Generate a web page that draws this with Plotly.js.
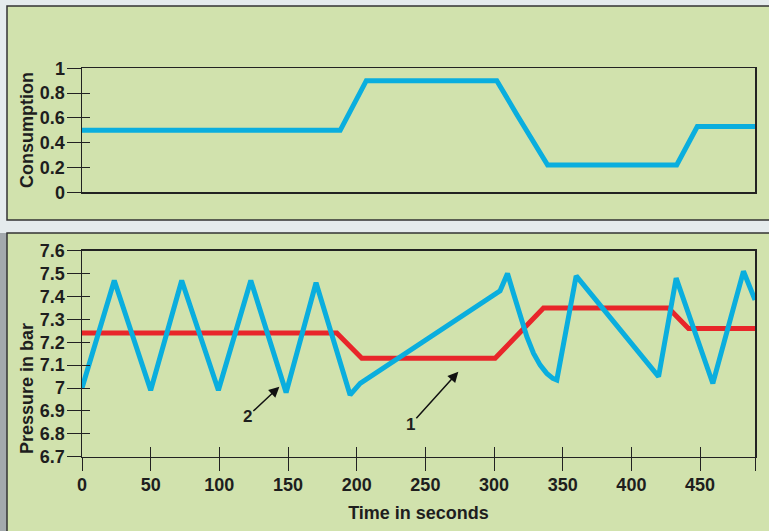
<!DOCTYPE html>
<html><head><meta charset="utf-8">
<script src="https://cdn.plot.ly/plotly-3.0.1.min.js"></script>
<style>html,body{margin:0;padding:0;background:#e5ebed;} #chart{width:769px;height:531px;}</style>
</head><body><div id="chart"></div>
<script>
// ---- data ----
const consTime  = [0, 188, 207, 302, 317, 339, 433, 448, 490];
const consValue = [0.5, 0.5, 0.9, 0.9, 0.62, 0.22, 0.22, 0.53, 0.53];

const setTime     = [0, 185.5, 203.7, 300.8, 336, 427, 441.6, 490];
const setPressure = [7.24, 7.24, 7.13, 7.13, 7.35, 7.35, 7.26, 7.26];

const actTime     = [0, 23.5, 50, 72.6, 99.3, 122.9, 148.6, 170.4, 195.2, 202.5, 304.4, 309.8, 314.1, 319, 323.9, 328.7, 333.6, 338.4, 342.8, 345.7, 359.8, 419.8, 432.6, 459.3, 481.6, 490];
const actPressure = [7.0, 7.47, 6.99, 7.47, 6.99, 7.47, 6.98, 7.46, 6.97, 7.02, 7.425, 7.50, 7.414, 7.312, 7.224, 7.152, 7.10, 7.064, 7.042, 7.035, 7.49, 7.05, 7.48, 7.02, 7.51, 7.385];

const timeTicks   = [0, 50, 100, 150, 200, 250, 300, 350, 400, 450, 490];
const timeLabels  = ['0', '50', '100', '150', '200', '250', '300', '350', '400', '450', ''];
const consTicks   = [0, 0.2, 0.4, 0.6, 0.8, 1];
const pressTicks  = [6.7, 6.8, 6.9, 7, 7.1, 7.2, 7.3, 7.4, 7.5, 7.6];

const annoLabels = ['2', '1'];
const annoTime   = [143.7, 274];
const annoValue  = [7.006, 7.071];

// ---- styling ----
const W = 769, H = 531;
const px = v => v / W, py = v => 1 - v / H;
const FONT = 'Liberation Sans, Arial, Helvetica, sans-serif';
const tf = {family: FONT, size: 18, color: '#1e1e1e', weight: 700};
const BLUE = '#0aaede', RED = '#e8262a', AX = '#222';
const xDom = [px(82), px(755)];
const xRange = [0, 490];

const traces = [
  {x: consTime, y: consValue, xaxis: 'x', yaxis: 'y', mode: 'lines', line: {color: BLUE, width: 5}, hoverinfo: 'skip'},
  {x: setTime, y: setPressure, xaxis: 'x2', yaxis: 'y2', mode: 'lines', line: {color: RED, width: 5}, hoverinfo: 'skip'},
  {x: actTime, y: actPressure, xaxis: 'x2', yaxis: 'y2', mode: 'lines', line: {color: BLUE, width: 5}, hoverinfo: 'skip'},
  // dummy traces to create overlay axes for inward tick marks
  {x: [null], y: [null], xaxis: 'x3', yaxis: 'y2', showlegend: false, hoverinfo: 'skip'},
  {x: [null], y: [null], xaxis: 'x2', yaxis: 'y3', showlegend: false, hoverinfo: 'skip'},
  {x: [null], y: [null], xaxis: 'x', yaxis: 'y4', showlegend: false, hoverinfo: 'skip'}
];

const annotations = annoLabels.map((t, i) => ({
  x: annoTime[i], y: annoValue[i], xref: 'x2', yref: 'y2',
  text: t, showarrow: true, arrowhead: 2, arrowsize: 1.4, arrowwidth: 1.5, arrowcolor: '#111',
  ax: i === 0 ? -32 : -48, ay: i === 0 ? 30 : 53,
  font: {family: FONT, size: 17, color: '#1e1e1e', weight: 700}
}));
// y-axis titles placed as rotated text
annotations.push(
  {xref: 'paper', yref: 'paper', x: px(27), y: py(130), text: 'Consumption', textangle: -90, showarrow: false,
   font: tf, xanchor: 'center', yanchor: 'middle'},
  {xref: 'paper', yref: 'paper', x: px(27), y: py(389), text: 'Pressure in bar', textangle: -90, showarrow: false,
   font: tf, xanchor: 'center', yanchor: 'middle'}
);

const panel = (y0, y1) => ({type: 'rect', xref: 'paper', yref: 'paper', x0: px(7), x1: 1.02, y0: py(y1), y1: py(y0),
  fillcolor: '#d1e2ad', line: {color: '#333', width: 1.5}, layer: 'below'});

const layout = {
  width: W, height: H,
  margin: {l: 0, r: 0, t: 0, b: 0},
  paper_bgcolor: '#e5ebed',
  plot_bgcolor: '#e2eac3',
  showlegend: false,
  shapes: [
    {type: 'rect', xref: 'paper', yref: 'paper', x0: 0, x1: px(7), y0: 0, y1: py(233), fillcolor: '#a3a9ad', line: {width: 0}, layer: 'below'},
    panel(6, 220), panel(233, 540)
  ],
  annotations: annotations,
  xaxis: {domain: xDom, range: xRange, anchor: 'y', showline: true, mirror: true, linecolor: AX, linewidth: 1.5,
    showgrid: false, zeroline: false, ticks: '', showticklabels: false, fixedrange: true},
  yaxis: {domain: [py(192.3), py(68.3)], range: [0, 1], anchor: 'x', showline: true, mirror: true, linecolor: AX, linewidth: 1.5,
    showgrid: false, zeroline: false, ticks: 'outside', ticklen: 14, tickwidth: 1, tickcolor: AX,
    tickmode: 'array', tickvals: consTicks, ticktext: consTicks.map(String), tickfont: tf, ticklabelstandoff: -2,
    fixedrange: true},
  yaxis4: {overlaying: 'y', range: [0, 1], anchor: 'x', showline: false, showgrid: false, zeroline: false,
    ticks: 'inside', ticklen: 8, tickwidth: 1, tickcolor: AX, tickmode: 'array', tickvals: consTicks.slice(1, -1),
    showticklabels: false, fixedrange: true},
  xaxis2: {domain: xDom, range: xRange, anchor: 'y2', showline: true, mirror: true, linecolor: AX, linewidth: 1.5,
    showgrid: false, zeroline: false, ticks: 'outside', ticklen: 13, tickwidth: 1, tickcolor: AX,
    tickmode: 'array', tickvals: timeTicks, ticktext: timeLabels, tickfont: tf, ticklabelstandoff: -2,
    title: {text: 'Time in seconds', font: tf, standoff: 12}, fixedrange: true},
  xaxis3: {overlaying: 'x2', range: xRange, anchor: 'y2', showline: false, showgrid: false, zeroline: false,
    ticks: 'inside', ticklen: 10, tickwidth: 1, tickcolor: AX, tickmode: 'array', tickvals: timeTicks.slice(1, -1),
    showticklabels: false, fixedrange: true},
  yaxis2: {domain: [py(456.7), py(250.7)], range: [6.7, 7.6], anchor: 'x2', showline: true, mirror: true, linecolor: AX, linewidth: 1.5,
    showgrid: false, zeroline: false, ticks: 'outside', ticklen: 14, tickwidth: 1, tickcolor: AX,
    tickmode: 'array', tickvals: pressTicks, ticktext: pressTicks.map(String), tickfont: tf, ticklabelstandoff: -2,
    fixedrange: true},
  yaxis3: {overlaying: 'y2', range: [6.7, 7.6], anchor: 'x2', showline: false, showgrid: false, zeroline: false,
    ticks: 'inside', ticklen: 8, tickwidth: 1, tickcolor: AX, tickmode: 'array', tickvals: pressTicks,
    showticklabels: false, fixedrange: true}
};

Plotly.newPlot('chart', traces, layout, {displayModeBar: false, staticPlot: true});
</script>
</body></html>
